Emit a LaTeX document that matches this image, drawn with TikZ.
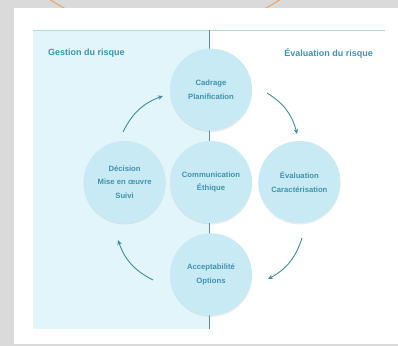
\documentclass[tikz,border=0pt]{standalone}
\usepackage{fontspec}
\setmainfont{Liberation Sans}
\usetikzlibrary{positioning,arrows.meta,shadows}

\definecolor{fondgris}{HTML}{DADADA}
\definecolor{zone}{HTML}{E2F5FB}
\definecolor{bulle}{HTML}{C8EAF5}
\definecolor{texte}{HTML}{3F93AC}
\definecolor{fleche}{HTML}{3F8C9E}
\definecolor{filet}{HTML}{B3D6DE}
\definecolor{separateur}{HTML}{5F8D98}
\definecolor{orangearc}{HTML}{E9A55C}

\begin{document}
\begin{tikzpicture}[
    x=1pt, y=1pt,
    node distance=10pt,
    etape/.style={circle, fill=bulle, minimum size=82pt, inner sep=0pt, align=center,
        font=\bfseries\fontsize{7.7}{13.5}\selectfont, text=texte,
        drop shadow={opacity=0.15, shadow xshift=0pt, shadow yshift=-1.5pt}},
    titre/.style={font=\bfseries\fontsize{9}{10}\selectfont, text=texte},
    cycle/.style={draw=fleche, line width=0.9pt, -{Stealth[length=5pt,width=4.5pt]}}
]
\useasboundingbox (0,0) rectangle (398,346);
\fill[fondgris] (0,0) rectangle (398,346);
\begin{scope}
    \clip (0,338) rectangle (398,346);
    \draw[orangearc, line width=1pt] (165,521) circle (209);
\end{scope}
\fill[white] (14,2) rectangle (398,338);
\fill[zone] (33,17) rectangle (209,316);
\draw[filet, line width=0.8pt] (33,316) -- (385,316);
\draw[separateur, line width=0.5pt] (209,17) -- (209,316);

\node[titre, anchor=west] (gestion) at (44.5,293) {Gestion du risque};
\node[titre, anchor=east] (evaluation) at (376.5,293) {Évaluation du risque};

\node[etape] (com) at (211,164) {Communication\\Éthique};
\node[etape, above=of com] (cad) {Cadrage\\Planification};
\node[etape, below=of com] (acc) {Acceptabilité\\Options};
\node[etape, left=4pt of com] (dec) {Décision\\Mise en œuvre\\Suivi};
\node[etape, right=6pt of com] (eva) {Évaluation\\Caractérisation};

% fleches du cycle
\coordinate (hg1) at (123,214);
\coordinate (hg2) at (163,250);
\coordinate (hd1) at (267,253);
\coordinate (hd2) at (297,212);
\coordinate (bd1) at (302,108);
\coordinate (bd2) at (268,67);
\coordinate (bg1) at (153,66);
\coordinate (bg2) at (118,106);

\draw[cycle] (hg1) to[bend left=22] (hg2);
\draw[cycle] (hd1) to[bend left=22] (hd2);
\draw[cycle] (bd1) to[bend left=22] (bd2);
\draw[cycle] (bg1) to[bend left=22] (bg2);
\end{tikzpicture}
\end{document}
